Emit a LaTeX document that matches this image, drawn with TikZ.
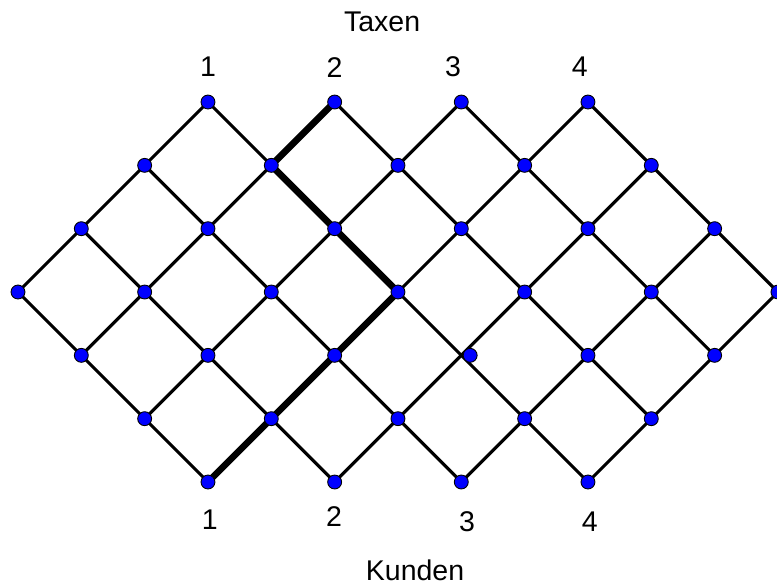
\documentclass[tikz,border=0pt]{standalone}
\usepackage{fontspec}
\setmainfont{Liberation Sans}
\usetikzlibrary{calc}

\begin{document}
\begin{tikzpicture}[
  edge/.style={line width=1.4pt},
  route/.style={line width=3pt, line join=round},
  dot/.style={circle, fill=blue, draw=black, line width=0.4pt, inner sep=0pt, minimum size=0.22cm},
  lbl/.style={font=\fontsize{12.8}{15}\selectfont, inner sep=0pt}]
  \useasboundingbox (-0.284,-7.627) rectangle (11.985,1.611);
  % lattice points
  \foreach \r/\a/\b in {0/3/9, 1/2/10, 2/1/11, 3/0/12, 4/1/11, 5/2/10, 6/3/9} {
    \pgfmathtruncatemacro\aa{\a+2}
    \foreach \c in {\a,\aa,...,\b} {\coordinate (p\c-\r) at (\c,-\r);}
  }
  % diagonals down right
  \foreach \s/\e in {0-3/3-6, 1-2/5-6, 2-1/7-6, 3-0/9-6, 5-0/10-5, 7-0/11-4, 9-0/12-3}
    {\draw[edge] (p\s) -- (p\e);}
  % diagonals down left
  \foreach \s/\e in {3-0/0-3, 5-0/1-4, 7-0/2-5, 9-0/3-6, 10-1/5-6, 11-2/7-6, 12-3/9-6}
    {\draw[edge] (p\s) -- (p\e);}
  % highlighted route
  \draw[route] (p5-0) -- (p4-1) -- (p6-3) -- (p3-6);
  % dots
  \foreach \r/\a/\b in {0/3/9, 1/2/10, 2/1/11, 3/0/12, 4/1/11, 5/2/10, 6/3/9} {
    \pgfmathtruncatemacro\aa{\a+2}
    \foreach \c in {\a,\aa,...,\b} {
      \pgfmathsetmacro\dx{(\c==7)*(\r==4)*0.14}
      \node[dot, xshift=\dx cm] (d\c-\r) at (p\c-\r) {};
    }
  }
  % labels top
  \node[lbl] (taxen) at (5.75,1.26) {Taxen};
  \node[lbl] (t1) at (3.0,0.55) {1};
  \node[lbl] (t2) at (5.0,0.55) {2};
  \node[lbl] (t3) at (6.87,0.55) {3};
  \node[lbl] (t4) at (8.87,0.55) {4};
  % labels bottom
  \node[lbl] (b1) at (3.03,-6.59) {1};
  \node[lbl] (b2) at (4.99,-6.54) {2};
  \node[lbl] (b3) at (7.09,-6.62) {3};
  \node[lbl] (b4) at (9.03,-6.62) {4};
  \node[lbl] (kunden) at (6.27,-7.40) {Kunden};
\end{tikzpicture}
\end{document}
